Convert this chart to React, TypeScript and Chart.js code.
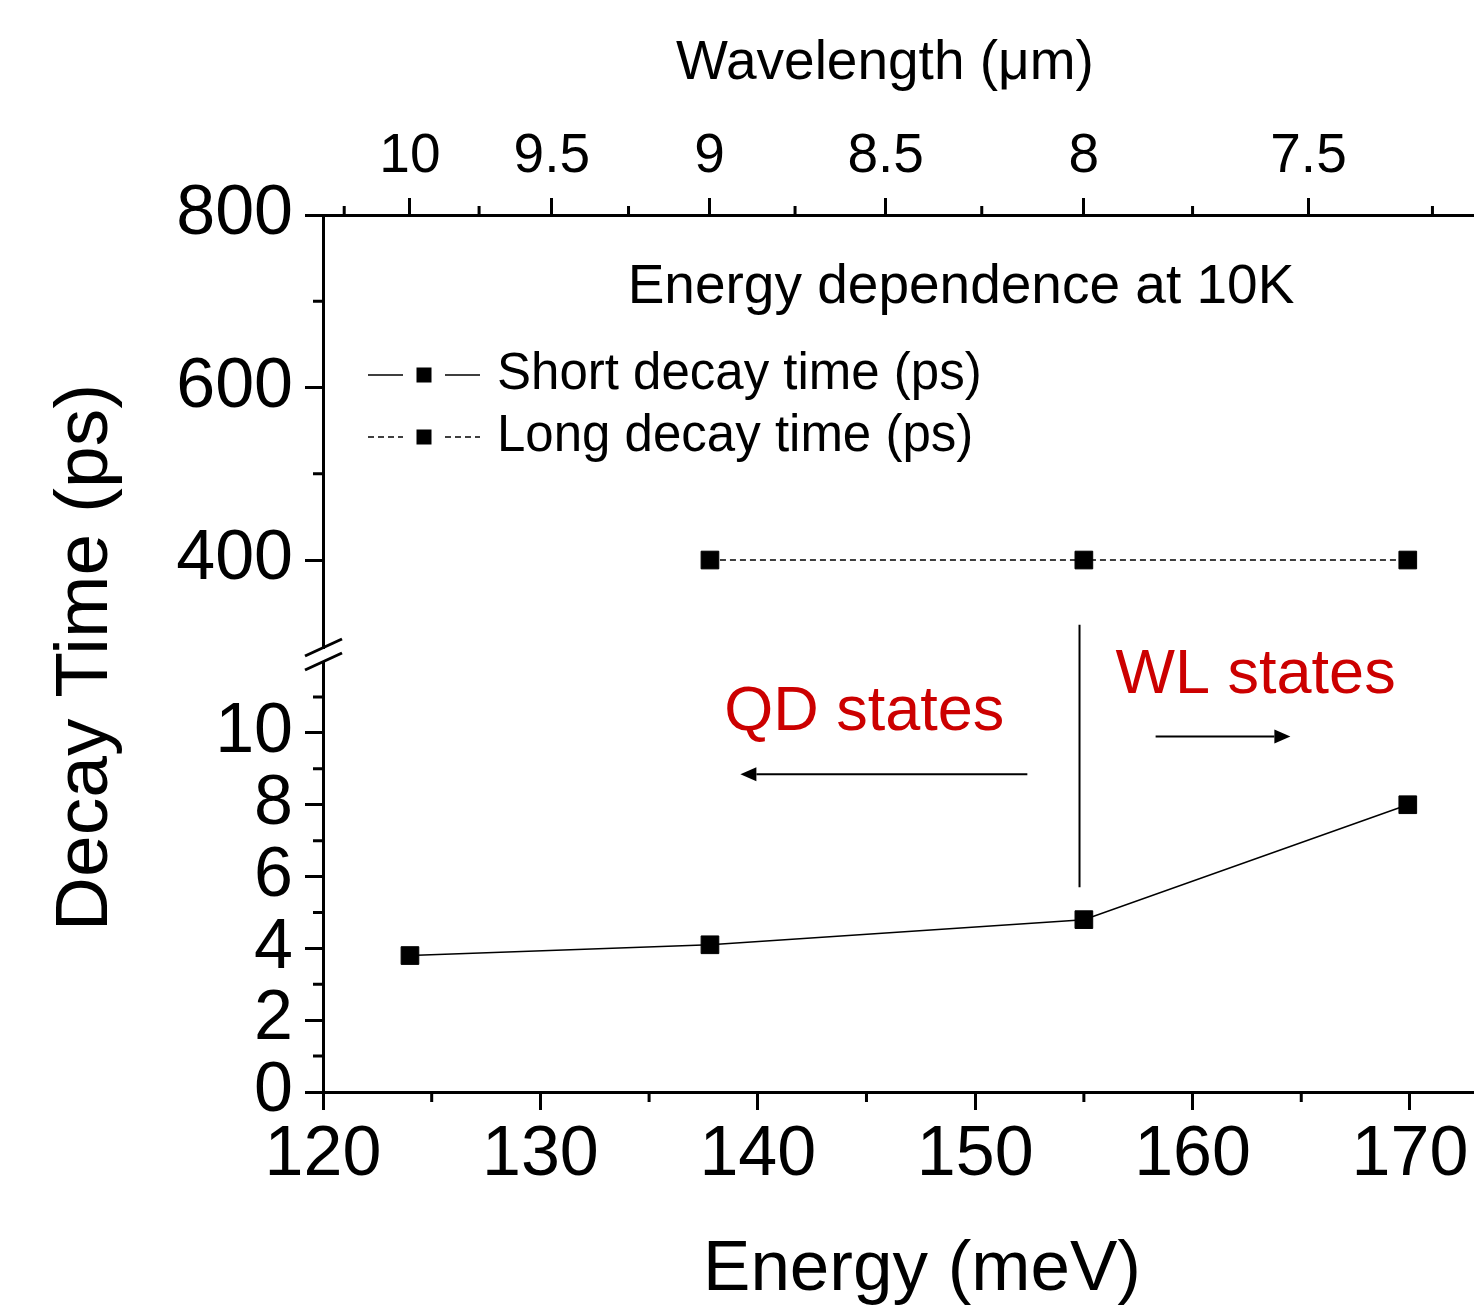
import React, { useEffect, useRef } from 'react';
import { Chart, registerables } from 'chart.js';

Chart.register(...registerables);

// ---- data ----
const HC = 1240; // meV·µm, wavelength = HC / energy
const shortEnergy = [124.0, 137.8, 155.0, 169.9];
const shortDecay = [3.8, 4.1, 4.8, 8.0];
const longEnergy = [137.8, 155.0, 169.9];
const longDecay = [400, 400, 400];

// ---- ticks ----
const energyTicks = [120, 130, 140, 150, 160, 170];
const energyMinor = [125, 135, 145, 155, 165];
const wavelengthTicks = [10, 9.5, 9, 8.5, 8, 7.5];
const wavelengthLabels = ['10', '9.5', '9', '8.5', '8', '7.5'];
const wavelengthMinor = [10.25, 9.75, 9.25, 8.75, 8.25, 7.75, 7.25];
const lowTicks = [0, 2, 4, 6, 8, 10];
const lowMinor = [1, 3, 5, 7, 9, 11];
const highTicks = [400, 600, 800];
const highMinor = [500, 700];

// ---- ranges ----
const energyRange = [120, 172.9];
const lowRange = [0, 12.17];
const highRange = [289.9, 800];

// ---- annotations (data units) ----
const boundaryEnergy = 154.8;
const boundaryTopHigh = 325;
const boundaryBottomLow = 5.7;
const qdArrow = { from: 152.4, to: 139.2, y: 8.85 };
const wlArrow = { from: 158.3, to: 164.5, y: 9.9 };
const qdLabel = { text: 'QD states', x: 144.9, y: 10.56 };
const wlLabel = { text: 'WL states', x: 162.9, y: 11.59 };
const xTitle = 'Energy (meV)';
const x2Title = 'Wavelength (\u03bcm)';
const yTitle = 'Decay Time (ps)';

const FONT = "'Liberation Sans', Arial, Helvetica, sans-serif";

export default function App() {
  const ref = useRef<HTMLCanvasElement>(null);

  useEffect(() => {
    const font = (size: number) => ({ family: FONT, size, weight: 'normal' as const, lineHeight: 1.2 });
    const grid = (len: number) => ({
      display: true,
      drawOnChartArea: false,
      drawTicks: true,
      tickLength: len,
      tickWidth: 3,
      tickColor: '#000',
    });
    const border = { display: true, width: 3, color: '#000' };

    const decor = {
      id: 'decor',
      afterDraw(chart: any) {
        const ctx = chart.ctx as CanvasRenderingContext2D;
        const { x, x2, yLow, yHigh } = chart.scales;
        const area = chart.chartArea;
        ctx.save();
        ctx.strokeStyle = '#000';
        ctx.lineWidth = 3;
        ctx.lineCap = 'butt';

        // minor ticks
        ctx.beginPath();
        energyMinor.forEach((v) => {
          const px = x.getPixelForValue(v);
          ctx.moveTo(px, area.bottom);
          ctx.lineTo(px, area.bottom + 10);
        });
        wavelengthMinor.forEach((l) => {
          const px = x2.getPixelForValue(HC / l);
          if (px > area.right) return;
          ctx.moveTo(px, area.top);
          ctx.lineTo(px, area.top - 9);
        });
        lowMinor.forEach((v) => {
          const py = yLow.getPixelForValue(v);
          ctx.moveTo(area.left, py);
          ctx.lineTo(area.left - 10, py);
        });
        highMinor.forEach((v) => {
          const py = yHigh.getPixelForValue(v);
          ctx.moveTo(area.left, py);
          ctx.lineTo(area.left - 10, py);
        });
        ctx.stroke();

        // axis break
        const yb = yHigh.bottom;
        const ax = area.left;
        ctx.fillStyle = '#fff';
        ctx.fillRect(ax - 4, yb - 6, 8, 12);
        [-7, 7].forEach((off) => {
          ctx.beginPath();
          ctx.moveTo(ax - 18, yb + off + 8);
          ctx.lineTo(ax + 19, yb + off - 9);
          ctx.stroke();
        });

        // boundary line
        const vx = x.getPixelForValue(boundaryEnergy);
        ctx.lineWidth = 2;
        ctx.beginPath();
        ctx.moveTo(vx, yHigh.getPixelForValue(boundaryTopHigh));
        ctx.lineTo(vx, yLow.getPixelForValue(boundaryBottomLow));
        ctx.stroke();

        // arrows
        const arrow = (a: { from: number; to: number; y: number }) => {
          const x0 = x.getPixelForValue(a.from);
          const x1 = x.getPixelForValue(a.to);
          const py = yLow.getPixelForValue(a.y);
          const dir = Math.sign(x1 - x0);
          const head = 16;
          ctx.lineWidth = 2;
          ctx.beginPath();
          ctx.moveTo(x0, py);
          ctx.lineTo(x1 - dir * head, py);
          ctx.stroke();
          ctx.fillStyle = '#000';
          ctx.beginPath();
          ctx.moveTo(x1, py);
          ctx.lineTo(x1 - dir * head, py - 7);
          ctx.lineTo(x1 - dir * head, py + 7);
          ctx.closePath();
          ctx.fill();
        };
        arrow(qdArrow);
        arrow(wlArrow);

        // red labels
        ctx.fillStyle = '#cc0000';
        ctx.font = `63px ${FONT}`;
        ctx.textAlign = 'center';
        ctx.textBaseline = 'middle';
        [qdLabel, wlLabel].forEach((t) => {
          ctx.fillText(t.text, x.getPixelForValue(t.x), yLow.getPixelForValue(t.y));
        });

        // inner title
        ctx.fillStyle = '#000';
        ctx.font = `55px ${FONT}`;
        ctx.fillText('Energy dependence at 10K', area.left + 638, area.top + 73);

        // axis titles
        ctx.font = `71px ${FONT}`;
        ctx.fillText(xTitle, area.left + 599, area.bottom + 178);
        ctx.font = `55px ${FONT}`;
        ctx.fillText(x2Title, area.left + 562, area.top - 151);

        // legend
        const rows = [
          { y: area.top + 160, dash: [] as number[], label: 'Short decay time (ps)' },
          { y: area.top + 222, dash: [6, 4], label: 'Long decay time (ps)' },
        ];
        rows.forEach((r) => {
          ctx.strokeStyle = '#000';
          ctx.lineWidth = 1.5;
          ctx.setLineDash(r.dash);
          ctx.beginPath();
          ctx.moveTo(area.left + 45, r.y);
          ctx.lineTo(area.left + 80, r.y);
          ctx.moveTo(area.left + 122, r.y);
          ctx.lineTo(area.left + 157, r.y);
          ctx.stroke();
          ctx.setLineDash([]);
          ctx.fillStyle = '#000';
          ctx.fillRect(area.left + 93.5, r.y - 7.5, 15, 15);
          ctx.font = `51px ${FONT}`;
          ctx.textAlign = 'left';
          ctx.textBaseline = 'middle';
          ctx.fillText(r.label, area.left + 174, r.y);
        });

        // y-axis title
        ctx.save();
        ctx.translate(86, (area.top + area.bottom) / 2 + 4);
        ctx.rotate(-Math.PI / 2);
        ctx.font = `75px ${FONT}`;
        ctx.textAlign = 'center';
        ctx.textBaseline = 'middle';
        ctx.fillStyle = '#000';
        ctx.fillText(yTitle, 0, 0);
        ctx.restore();

        ctx.restore();
      },
    };

    const chart = new Chart(ref.current as HTMLCanvasElement, {
      type: 'line',
      data: {
        datasets: [
          {
            label: 'Short decay time (ps)',
            data: shortEnergy.map((e, i) => ({ x: e, y: shortDecay[i] })),
            xAxisID: 'x',
            yAxisID: 'yLow',
            borderColor: '#000',
            borderWidth: 1.5,
            pointStyle: 'rect',
            pointRadius: 12.5,
            pointBackgroundColor: '#000',
            pointBorderColor: '#000',
            pointBorderWidth: 1,
            tension: 0,
          },
          {
            label: 'Long decay time (ps)',
            data: longEnergy.map((e, i) => ({ x: e, y: longDecay[i] })),
            xAxisID: 'x',
            yAxisID: 'yHigh',
            borderColor: '#000',
            borderWidth: 1.5,
            borderDash: [6, 4],
            pointStyle: 'rect',
            pointRadius: 12.5,
            pointBackgroundColor: '#000',
            pointBorderColor: '#000',
            pointBorderWidth: 1,
            tension: 0,
          },
        ],
      },
      options: {
        animation: false,
        responsive: false,
        devicePixelRatio: 1,
        layout: { autoPadding: false, padding: { left: 0, right: 2, top: 0, bottom: 0 } },
        plugins: { legend: { display: false }, tooltip: { enabled: false } },
        scales: {
          x: {
            type: 'linear',
            position: 'bottom',
            min: energyRange[0],
            max: energyRange[1],
            afterBuildTicks: (s: any) => {
              s.ticks = energyTicks.map((v) => ({ value: v }));
            },
            afterFit: (s: any) => {
              s.height = 216;
            },
            ticks: {
              font: font(70),
              color: '#000',
              padding: 4,
              maxRotation: 0,
              autoSkip: false,
              callback: (v: any) => String(v),
            },
            grid: grid(18),
            border,
          },
          x2: {
            type: 'linear',
            position: 'top',
            min: energyRange[0],
            max: energyRange[1],
            afterBuildTicks: (s: any) => {
              s.ticks = wavelengthTicks.map((l) => ({ value: HC / l }));
            },
            afterFit: (s: any) => {
              s.height = 215;
            },
            ticks: {
              font: font(55),
              color: '#000',
              padding: 8,
              maxRotation: 0,
              autoSkip: false,
              callback: (_v: any, i: number) => wavelengthLabels[i],
            },
            grid: grid(17),
            border,
          },
          yLow: {
            type: 'linear',
            position: 'left',
            stack: 'decay',
            stackWeight: 437,
            min: lowRange[0],
            max: lowRange[1],
            afterBuildTicks: (s: any) => {
              s.ticks = lowTicks.map((v) => ({ value: v }));
            },
            afterFit: (s: any) => {
              s.width = 323;
            },
            ticks: { font: font(70), color: '#000', padding: 12, autoSkip: false, callback: (v: any) => String(v) },
            grid: grid(18),
            border,
          },
          yHigh: {
            type: 'linear',
            position: 'left',
            stack: 'decay',
            stackWeight: 440,
            min: highRange[0],
            max: highRange[1],
            afterBuildTicks: (s: any) => {
              s.ticks = highTicks.map((v) => ({ value: v }));
            },
            afterFit: (s: any) => {
              s.width = 323;
            },
            ticks: { font: font(70), color: '#000', padding: 12, autoSkip: false, callback: (v: any) => String(v) },
            grid: grid(18),
            border,
          },
        },
      } as any,
      plugins: [decor],
    });
    return () => chart.destroy();
  }, []);

  return (
    <div style={{ position: 'absolute', left: 0, top: 0, width: 1475, height: 1308, background: '#fff' }}>
      <canvas ref={ref} width={1475} height={1308} style={{ display: 'block' }} />
    </div>
  );
}
